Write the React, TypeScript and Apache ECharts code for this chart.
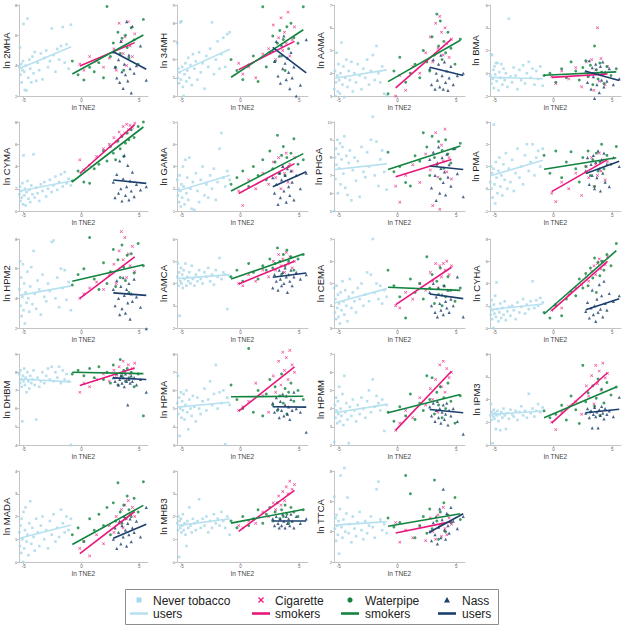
import React, { useEffect, useRef } from "react";
import * as echarts from "echarts";

// ---------- data ----------
const PANELS = ["2MHA", "34MH", "AAMA", "BMA", "CYMA", "GAMA", "PHGA", "PMA", "HPM2", "AMCA", "CEMA", "CYHA", "DHBM", "HPMA", "HPMM", "IPM3", "MADA", "MHB3", "TTCA"];

// y axis [min, max, step] per panel
const Y_AXES = [
  [2, 8, 2], [4, 9, 1], [3, 7, 1], [-2, 6, 2],
  [0, 8, 2], [1, 5, 1], [5, 10, 1], [-1, 3, 1],
  [2, 8, 2], [2, 6, 1], [3, 7, 1], [0, 8, 2],
  [4, 9, 1], [3, 8, 1], [2, 7, 1], [0, 8, 2],
  [0, 4, 1], [0, 4, 1], [2, 8, 2],
];
const X_TICKS = [-5, 0, 5];

// ln TNE2 of subjects by group
const NEVER_X = [-5.38, -5.32, -5.28, -5.22, -5.18, -5.12, -5.07, -5.02, -4.96, -4.9, -4.84, -4.76, -4.68, -4.6, -4.52, -4.44, -4.35, -4.25, -4.15, -4.05, -3.92, -3.8, -3.66, -3.52, -3.38, -3.22, -3.06, -2.9, -2.74, -2.58, -2.42, -2.26, -2.1, -1.94, -1.78, -1.62, -1.46, -1.3, -1.12, -0.92];
const CIG_X = [-0.15, 0.2, 0.7, 1.3, 1.9, 2.4, 2.8, 3.0, 3.25, 3.45, 3.6, 3.75, 3.9, 4.05, 4.2, 4.4, 4.6];
const WP_X = [-0.8, -0.3, 0.2, 0.7, 1.1, 1.5, 1.9, 2.2, 2.5, 2.75, 2.95, 3.15, 3.35, 3.5, 3.65, 3.8, 3.95, 4.1, 4.3, 4.55, 4.9, 5.35];
const NASS_X = [2.75, 2.9, 3.05, 3.2, 3.3, 3.4, 3.5, 3.6, 3.7, 3.8, 3.9, 4.0, 4.1, 4.2, 4.3, 4.4, 4.55, 4.75, 5.1, 5.6];

// fitted-line x extents per group
const FIT_X_NEVER = [-5.35, -0.9];
const FIT_X_CIG = [-0.15, 4.6];
const FIT_X_WP = [-0.8, 5.35];
const FIT_X_NASS = [2.75, 5.6];

// metabolite values (one row per panel, in PANELS order)
const NEVER_Y = [
  [3.9,5.2,3.4,4.1,2.9,3.7,4.3,6.75,3.6,2.4,4.0,2.35,7.1,3.2,4.4,3.8,2.9,4.6,3.5,4.9,3.0,4.2,3.7,4.8,3.1,4.5,5.0,3.9,4.3,6.45,4.7,3.6,5.1,4.4,5.3,6.55,4.2,5.4,3.8,6.7],
  [6.9,5.0,5.5,4.7,5.3,8.05,4.9,8.1,5.6,4.5,4.0,5.2,5.8,4.8,5.4,6.1,5.0,5.7,4.6,6.3,5.5,5.9,4.9,6.4,5.3,5.8,4.4,6.2,5.6,6.6,8.05,5.2,6.0,7.0,5.5,6.3,7.2,5.6,7.4,7.5],
  [3.3,4.1,3.0,3.6,4.9,3.9,3.2,4.4,3.7,3.1,4.0,5.35,3.5,4.3,2.95,3.8,4.6,3.4,4.1,3.7,4.5,3.2,4.0,3.6,4.4,3.9,3.3,4.2,3.8,4.6,3.5,4.1,4.8,3.7,5.2,4.0,3.6,4.3,3.1,3.0],
  [-0.2,1.65,-0.9,1.6,-0.5,0.3,-1.3,0.6,-0.1,0.9,-0.7,0.9,-1.5,0.1,-0.4,0.8,-1.0,0.4,-0.6,0.0,-1.2,4.8,-0.3,-0.8,0.5,-0.2,-1.4,0.3,-0.6,0.7,-0.9,0.0,1.0,-0.4,0.4,-1.0,0.2,-0.5,0.6,-1.1],
  [1.5,2.2,0.9,1.8,1.2,2.5,0.6,5.0,1.4,2.0,0.5,1.7,2.7,1.1,1.9,0.8,2.3,1.5,5.1,1.2,2.1,1.6,0.9,2.4,1.8,2.6,1.3,2.0,2.8,1.7,2.3,3.1,1.9,2.6,3.3,2.2,3.5,2.5,2.9,2.3],
  [2.4,1.7,2.0,1.4,2.6,1.9,1.2,2.2,1.6,3.0,2.1,1.3,3.3,1.8,2.5,1.5,3.4,2.0,1.1,2.3,1.05,2.7,1.9,1.4,2.4,3.0,1.7,2.2,1.6,2.6,2.0,2.9,1.5,2.3,3.8,4.5,2.5,2.1,2.8,2.4],
  [5.0,8.0,6.8,8.5,7.6,9.0,6.0,8.2,7.4,8.8,6.5,7.9,8.6,7.1,9.2,6.3,8.1,5.9,7.7,8.4,5.6,7.3,8.0,6.7,7.8,5.8,8.6,7.2,6.9,8.3,7.5,9.0,10.3,7.0,8.9,6.4,7.9,8.4,7.2,6.2],
  [0.3,1.0,0.0,0.7,-0.4,0.9,2.88,0.2,-0.66,1.2,0.5,-0.2,0.8,1.4,0.1,0.6,-0.3,1.1,0.4,1.6,0.0,0.9,0.3,1.3,-0.1,0.7,1.8,0.5,1.0,0.2,1.5,2.0,0.8,1.2,2.0,0.6,1.4,1.7,1.0,1.8],
  [4.6,6.5,3.5,5.4,2.8,4.1,6.3,3.2,5.0,2.3,4.4,3.7,5.8,4.0,3.1,4.8,6.1,3.6,7.2,4.3,3.3,5.2,4.6,2.9,5.6,4.1,3.8,5.0,4.5,7.8,7.9,4.0,5.4,3.4,6.0,4.7,5.9,3.9,5.1,3.2],
  [4.3,4.9,3.9,4.5,2.55,4.1,4.7,4.0,4.4,3.8,4.6,4.2,4.9,3.9,4.3,4.1,4.5,4.0,4.8,4.2,3.9,4.4,4.1,4.6,4.2,4.0,4.5,4.3,4.7,4.1,4.4,3.95,4.6,4.3,5.15,4.2,4.5,4.4,2.85,4.3],
  [4.8,3.7,4.3,3.4,4.9,3.9,4.5,3.5,4.1,3.2,4.6,3.8,5.1,4.2,3.6,4.7,4.0,3.3,4.4,5.2,3.9,4.6,4.2,3.7,4.8,4.3,5.0,4.0,4.5,5.5,4.2,5.4,7.0,4.6,5.0,4.3,4.9,4.1,4.7,4.4],
  [1.9,1.2,2.5,0.8,1.6,0.0,2.1,1.3,2.9,1.0,4.1,1.7,0.6,1.4,2.2,0.9,1.8,1.2,2.4,0.7,1.5,1.9,1.1,2.0,1.6,0.8,2.3,1.4,1.9,2.6,1.3,2.1,1.7,2.4,4.2,1.8,2.5,2.0,2.7,2.3],
  [7.9,7.4,8.1,7.6,7.2,5.3,7.8,7.5,8.2,7.3,7.7,6.9,8.0,7.5,7.1,7.8,7.4,7.6,8.1,7.3,5.4,7.7,7.2,7.5,8.0,7.4,7.8,8.2,7.6,8.3,7.5,8.0,7.7,8.3,7.4,8.1,7.6,7.9,7.5,4.0],
  [5.3,6.8,4.7,5.6,3.5,5.0,5.9,4.5,5.4,4.9,5.8,4.4,5.2,6.0,4.8,3.86,5.5,5.0,4.6,5.7,5.1,4.3,5.6,5.0,4.7,5.4,6.1,4.9,5.5,6.5,5.2,5.8,7.4,5.0,5.9,5.3,6.0,3.04,5.6,5.2],
  [2.16,4.2,3.5,4.6,3.9,3.2,4.4,3.7,5.2,3.3,4.0,3.6,4.8,3.1,5.8,3.8,4.3,3.4,2.1,4.1,3.6,4.5,3.9,3.3,4.2,3.7,4.6,4.0,3.5,4.4,5.0,3.8,5.6,4.1,4.7,4.3,3.9,4.5,2.77,4.2],
  [2.6,3.6,2.2,2.9,0.15,2.5,3.1,2.3,2.8,1.4,2.6,3.0,2.1,2.7,1.3,2.9,2.4,3.2,2.6,1.4,2.8,2.3,3.1,2.7,2.5,3.0,2.2,2.9,3.4,2.6,3.0,2.4,4.5,2.8,3.2,2.5,3.0,3.6,2.9,3.3],
  [1.3,0.7,1.6,0.4,1.9,1.0,0.0,2.2,0.6,1.4,2.4,0.9,1.2,0.3,1.7,2.67,0.8,1.5,1.1,0.5,1.9,1.3,0.7,1.6,2.0,1.0,1.4,0.6,1.8,1.2,2.1,0.9,1.5,1.1,2.3,1.7,1.3,2.0,1.4,1.9],
  [1.7,1.4,2.0,0.22,1.8,1.5,1.9,1.3,1.6,2.1,1.4,1.7,1.2,0.7,1.8,1.5,2.4,1.6,1.3,1.9,1.7,1.4,1.8,2.76,1.5,1.9,1.6,2.0,1.3,1.8,1.5,2.1,1.7,1.9,1.6,2.2,1.8,1.5,2.0,1.2],
  [6.3,4.2,4.9,3.4,5.1,4.4,3.8,4.7,2.55,5.5,7.7,4.3,3.6,4.8,8.2,4.0,5.2,6.25,3.9,4.5,3.3,5.0,4.2,3.7,4.6,5.3,4.1,3.5,4.7,3.9,4.4,5.0,4.3,3.6,6.8,7.3,4.8,4.1,4.5,3.9],
];
const CIG_Y = [
  [4.1,3.7,4.6,4.3,3.9,4.5,5.1,3.7,6.8,5.6,4.8,5.9,4.0,6.9,5.3,4.6,6.1],
  [5.8,5.2,5.6,5.0,6.3,6.6,7.9,6.0,7.2,8.3,6.5,7.5,6.9,8.6,6.2,7.1,7.8],
  [3.0,3.9,3.25,4.3,4.0,4.9,5.6,4.5,6.2,5.1,6.5,5.8,4.8,6.0,5.3,4.7,5.5],
  [-0.3,-0.9,0.2,-0.5,0.5,-1.2,1.0,-0.2,1.2,-1.5,0.3,4.0,-0.7,1.3,-0.1,-1.0,0.6],
  [4.6,3.7,4.1,4.9,5.6,6.0,6.6,6.2,7.1,6.8,7.6,7.0,7.8,7.3,7.7,7.5,7.9],
  [1.9,1.25,2.4,2.0,2.7,2.2,3.2,2.5,3.4,2.0,3.0,2.7,3.6,2.3,3.1,2.8,3.4],
  [6.4,5.5,7.0,7.6,6.6,8.2,7.3,5.3,9.4,6.9,5.1,8.7,7.8,9.6,7.2,8.0,6.8],
  [-0.2,-0.58,0.3,0.0,0.7,-0.3,1.0,0.5,1.4,0.1,1.1,0.6,1.6,0.8,1.3,0.4,1.2],
  [4.0,4.3,4.7,5.1,4.6,5.6,6.3,5.0,7.2,8.5,6.6,8.1,5.4,7.0,6.2,7.5,5.8],
  [4.0,3.9,4.4,4.1,4.6,4.3,5.0,4.6,5.3,4.8,5.1,4.5,5.4,4.9,5.2,4.7,5.0],
  [4.0,3.9,4.6,4.3,5.0,4.7,5.5,5.1,5.9,4.8,5.8,5.3,5.9,5.6,6.0,5.4,5.8],
  [1.6,2.1,1.8,3.0,3.6,3.9,4.6,4.2,5.1,5.6,4.8,5.8,6.2,5.3,6.0,5.7,6.4],
  [6.9,7.4,7.2,7.6,7.9,7.5,8.1,7.7,8.3,7.8,8.6,8.0,7.6,8.4,7.9,8.2,8.5],
  [4.9,5.1,5.4,6.4,5.7,4.8,6.8,5.9,7.6,6.3,8.1,7.1,7.8,6.6,8.2,7.4,7.0],
  [2.8,3.2,3.9,3.5,4.6,4.2,5.1,4.5,5.6,3.8,6.4,5.2,6.6,4.9,6.2,5.7,6.0],
  [2.0,1.35,2.9,3.4,3.8,2.7,5.2,4.3,6.1,3.6,7.0,5.4,6.5,4.8,7.2,5.9,6.3],
  [0.6,0.9,0.27,1.2,0.8,1.6,1.3,2.0,1.7,2.3,1.5,2.5,1.9,2.7,2.1,2.4,2.0],
  [1.6,1.5,1.8,1.7,2.2,2.0,2.6,2.3,2.9,2.5,3.1,2.7,3.3,3.0,3.55,3.2,3.4],
  [4.6,3.3,4.1,3.6,4.3,3.4,4.9,4.0,3.5,5.1,4.4,3.7,5.6,4.2,3.8,4.9,4.5],
];
const WP_Y = [
  [4.3,3.4,3.05,3.9,3.6,4.2,3.2,7.9,4.6,5.5,3.9,6.2,4.8,5.8,3.7,6.0,5.2,4.5,6.5,5.7,4.1,7.05],
  [6.0,5.4,4.9,5.7,6.2,4.8,8.9,5.6,6.4,7.3,5.9,6.9,7.6,6.2,7.1,5.4,7.8,6.6,8.0,7.2,6.9,8.9],
  [3.1,4.1,4.7,3.6,4.0,4.4,3.8,5.0,4.5,4.1,5.6,4.8,6.6,5.2,6.3,4.6,5.4,4.9,5.8,5.1,4.4,5.5],
  [-0.2,0.0,-0.8,0.4,-0.4,1.0,0.2,-0.6,0.5,1.1,-0.3,0.7,-1.0,2.4,0.3,-0.5,0.9,0.1,-0.9,0.6,-0.2,0.4],
  [2.7,3.6,2.6,2.5,3.8,4.2,5.4,4.5,5.8,5.2,4.6,6.3,5.6,6.7,4.9,6.1,7.0,6.4,7.3,6.6,7.6,8.0],
  [2.2,2.5,2.8,2.1,3.0,2.6,3.3,2.4,3.7,2.9,3.2,4.4,2.7,3.5,3.9,2.6,3.4,3.0,3.6,4.25,3.1,3.3],
  [8.3,7.2,7.5,6.6,6.4,8.1,7.8,9.4,8.6,7.0,9.2,8.0,7.6,8.9,6.8,8.4,7.4,9.0,8.2,7.7,8.5,8.8],
  [1.5,0.7,1.7,0.5,1.2,1.66,0.9,0.3,1.4,1.0,1.7,0.6,1.3,0.1,1.6,0.8,1.2,2.0,0.9,1.5,1.1,1.9],
  [4.9,5.6,6.0,8.1,5.3,4.6,6.4,5.0,5.8,7.3,4.8,6.6,5.4,7.6,6.1,5.2,6.9,4.4,7.0,5.7,7.7,6.2],
  [4.3,4.6,4.1,4.9,4.5,4.2,4.8,4.6,5.1,4.7,4.9,5.6,5.0,4.4,5.3,4.8,5.5,5.0,5.2,4.6,5.1,5.3],
  [5.6,4.9,4.4,3.45,5.2,4.6,5.0,4.3,6.2,4.8,5.4,4.1,5.1,4.5,5.7,4.0,4.9,4.4,5.3,4.7,4.2,4.8],
  [1.4,0.9,2.0,1.1,2.6,3.3,2.9,4.4,3.6,4.9,3.8,5.4,4.5,6.3,3.2,5.9,4.7,6.0,5.2,6.6,5.6,7.6],
  [7.9,8.1,7.8,8.2,7.7,8.3,7.6,8.0,7.4,8.4,7.9,7.3,8.7,7.8,8.1,7.5,8.2,7.7,8.0,7.2,7.9,5.6],
  [6.3,5.5,5.0,8.3,4.8,6.0,4.6,5.8,6.6,5.2,6.2,4.9,5.7,6.9,5.3,6.1,4.7,5.9,6.4,5.4,6.0,5.5],
  [3.8,3.3,4.1,3.6,4.8,3.4,4.3,3.9,5.8,4.5,5.7,3.7,4.9,4.2,5.2,3.5,4.6,4.0,5.4,4.4,3.2,4.7],
  [3.0,2.4,2.7,3.5,2.2,4.3,3.1,1.9,7.0,3.8,4.6,2.9,5.2,3.4,4.1,5.8,2.6,4.9,3.7,5.5,4.4,5.1],
  [1.2,1.5,0.9,1.9,1.4,2.1,1.6,2.4,1.2,2.6,1.8,3.48,2.2,1.7,2.5,1.9,2.9,2.3,2.0,2.8,2.2,3.53],
  [1.8,1.5,2.0,1.6,1.9,2.3,1.7,2.1,2.4,1.8,2.2,2.6,1.9,2.3,2.0,2.5,2.1,1.7,2.4,2.2,2.0,2.3],
  [4.9,4.3,4.6,7.7,6.5,3.6,4.4,5.0,3.9,5.5,4.2,7.4,4.7,3.5,5.3,4.5,5.9,4.0,5.1,4.6,6.25,4.8],
];
const NASS_Y = [
  [4.9,3.9,3.2,4.4,2.9,5.6,3.6,2.5,4.1,3.4,6.9,3.0,4.7,3.8,2.2,6.6,3.5,4.0,5.3,3.05],
  [6.5,5.9,7.0,5.1,6.2,4.7,6.8,5.5,7.3,5.8,4.9,6.1,5.3,4.4,6.4,5.0,5.6,4.0,4.6,7.1],
  [4.2,3.5,4.6,3.3,4.0,3.7,4.4,3.4,4.8,3.9,3.3,4.5,3.6,4.1,3.25,3.8,4.3,3.5,3.9,4.0],
  [0.2,-0.8,1.1,-1.4,0.5,-0.3,-2.2,0.8,-1.0,0.0,-1.7,0.6,-0.6,1.0,-1.2,0.1,-0.7,0.4,-1.0,-0.5],
  [2.6,1.2,3.3,1.6,4.5,2.0,0.9,2.9,5.0,1.4,2.2,4.1,1.0,2.7,1.8,3.5,1.3,2.4,1.9,2.2],
  [2.5,1.8,2.2,1.3,2.7,1.6,2.4,3.0,1.9,2.6,1.4,2.9,2.1,1.7,2.8,2.3,1.5,2.6,2.0,2.7],
  [7.9,6.3,8.3,7.0,5.6,7.7,8.6,6.0,7.4,8.0,6.6,7.2,5.9,8.2,6.9,7.6,6.4,8.5,7.1,5.8],
  [0.8,1.4,0.2,1.1,0.6,1.5,0.0,1.2,0.5,1.7,0.9,-0.1,1.3,0.7,1.6,0.3,1.1,0.1,1.4,1.0],
  [4.6,3.5,5.2,4.0,2.9,4.8,3.3,5.4,4.2,3.0,4.6,3.7,5.0,2.6,4.3,3.8,5.3,4.1,3.4,1.95],
  [3.8,4.4,4.1,3.7,4.6,4.2,3.9,4.5,4.0,4.7,4.3,3.6,4.4,4.1,4.6,3.9,4.3,4.5,4.2,4.4],
  [4.6,4.0,5.0,3.7,4.4,3.5,4.8,4.1,3.8,4.5,3.6,4.9,4.2,3.9,4.7,3.7,4.3,4.0,5.3,3.5],
  [1.5,2.3,0.9,1.8,3.4,1.2,2.0,0.6,2.6,1.4,3.9,1.7,2.9,1.0,4.2,2.2,1.6,3.1,2.4,2.9],
  [7.7,7.5,7.9,7.3,7.6,7.8,7.4,7.7,7.2,7.9,7.5,6.2,7.6,7.4,7.8,7.5,7.7,7.3,7.6,6.9],
  [5.3,4.8,5.6,5.0,4.5,5.4,4.9,5.8,4.6,5.2,5.7,4.7,5.1,4.4,5.5,4.9,5.9,5.0,4.8,3.7],
  [4.1,3.6,4.3,3.3,3.9,4.4,3.5,4.0,3.2,3.8,4.2,3.4,3.7,4.3,3.1,3.9,3.6,4.0,3.3,2.6],
  [2.8,3.2,2.4,3.0,1.5,2.7,3.3,2.5,2.9,1.5,3.1,2.6,3.4,2.8,2.3,3.2,2.7,3.0,2.5,4.2],
  [1.0,1.5,0.6,1.3,1.8,0.8,1.6,1.1,2.0,1.4,0.7,1.7,1.2,1.9,0.9,1.5,1.3,1.8,1.1,2.4],
  [1.9,1.6,2.0,1.7,1.5,1.9,1.6,2.1,1.8,1.5,2.0,1.7,1.9,1.6,2.1,1.8,1.5,2.0,1.7,1.9],
  [4.0,3.4,4.6,3.8,5.0,3.2,4.3,5.5,3.6,4.8,6.8,4.1,3.5,5.2,4.4,3.9,5.6,4.7,4.2,5.0],
];

// fitted line end values [start, end] per panel
const FIT_NEVER = [[3.82,5.25],[5.27,6.57],[3.78,4.15],[-0.36,-0.48],[1.8,2.7],[1.9,2.61],[7.33,7.65],[0.58,1.28],[4.2,4.84],[4.22,4.4],[4.12,4.77],[1.65,2.16],[7.63,7.47],[5.08,5.35],[3.77,4.23],[2.69,2.99],[1.04,1.63],[1.6,1.9],[4.43,4.66]];
const FIT_CIG = [[3.98,5.52],[5.45,7.0],[3.36,5.5],[-0.36,-0.06],[3.37,7.76],[1.79,3.13],[6.93,7.89],[-0.13,1.31],[4.0,6.8],[3.98,5.0],[4.05,5.73],[1.56,5.99],[7.27,8.23],[4.86,7.29],[2.82,6.05],[1.95,6.35],[0.37,2.22],[1.35,3.15],[3.91,4.66]];
const FIT_WP = [[3.45,6.02],[5.03,7.64],[3.63,5.45],[-0.18,0.12],[2.63,7.55],[1.9,3.58],[7.33,8.65],[0.88,1.39],[5.15,6.27],[4.2,5.33],[4.83,4.69],[1.26,6.95],[8.0,7.92],[5.65,5.68],[3.77,4.77],[2.4,5.09],[0.77,2.49],[1.71,2.31],[4.36,5.18]];
const FIT_NASS = [[4.92,3.76],[6.67,5.27],[4.26,3.9],[0.18,-0.63],[2.78,2.48],[2.09,2.76],[7.53,7.33],[0.69,1.24],[4.37,4.2],[4.28,4.47],[4.53,4.32],[1.65,2.63],[7.69,7.6],[5.1,5.08],[3.95,3.77],[2.84,3.14],[1.04,1.66],[1.8,1.8],[3.98,5.18]];

const LEGEND_GROUPS = [
  ["Never tobacco", "users"],
  ["Cigarette", "smokers"],
  ["Waterpipe", "smokers"],
  ["Nass", "users"],
];

// ---------- style ----------
const C_NEVER = "#a6d7ea";
const C_NEVER_LINE = "#b8e1f0";
const C_CIG = "#e8177c";
const C_WP = "#12843f";
const C_NASS = "#1b3e6c";
const CROSS = "path://M0,1.4L1.4,0L5,3.6L8.6,0L10,1.4L6.4,5L10,8.6L8.6,10L5,6.4L1.4,10L0,8.6L3.6,5Z";
const FONT = "Liberation Sans, Arial, Helvetica, sans-serif";

const COL_LEFT = [17, 177, 334, 490];
const COL_W = 131;
const ROW_TOP = [5, 122, 239, 354, 471];
const ROW_BOTTOM = [96, 211, 328, 445, 562];

function buildOption() {
  const grid: any[] = [];
  const xAxis: any[] = [];
  const yAxis: any[] = [];
  const series: any[] = [];
  const axisColor = "#c4c4c4";

  PANELS.forEach((name, i) => {
    const col = i % 4;
    const row = Math.floor(i / 4);
    grid.push({
      left: COL_LEFT[col],
      top: ROW_TOP[row],
      width: COL_W,
      height: ROW_BOTTOM[row] - ROW_TOP[row],
      containLabel: false,
    });
    xAxis.push({
      type: "value",
      gridIndex: i,
      min: -5.4,
      max: 5.75,
      axisLine: { show: true, onZero: false, lineStyle: { color: axisColor, width: 1 } },
      axisTick: { show: true, length: 2, customValues: X_TICKS, lineStyle: { color: axisColor } },
      axisLabel: { customValues: X_TICKS, fontSize: 4.5, color: "#666", margin: 2, fontFamily: FONT },
      splitLine: { show: false },
      name: "ln TNE2",
      nameLocation: "middle",
      nameGap: 7,
      nameTextStyle: { fontSize: 6.5, color: "#444", fontFamily: FONT },
    });
    const [ymin, ymax, ystep] = Y_AXES[i];
    yAxis.push({
      type: "value",
      gridIndex: i,
      min: ymin,
      max: ymax,
      interval: ystep,
      axisLine: { show: true, onZero: false, lineStyle: { color: axisColor, width: 1 } },
      axisTick: { show: true, length: 2, lineStyle: { color: axisColor } },
      axisLabel: { fontSize: 4, color: "#666", margin: 2, fontFamily: FONT },
      splitLine: { show: false },
      name: "ln " + name,
      nameLocation: "middle",
      nameGap: 7,
      nameTextStyle: { fontSize: 9.5, color: "#222", fontFamily: FONT },
    });
    const sc = (xs: number[], ys: number[], symbol: string, size: number, color: string) => ({
      type: "scatter",
      xAxisIndex: i,
      yAxisIndex: i,
      data: xs.map((x, j) => [x, ys[j]]),
      symbol,
      symbolSize: size,
      itemStyle: { color },
      clip: false,
      silent: true,
    });
    series.push(sc(NEVER_X, NEVER_Y[i], "rect", 2.6, C_NEVER));
    series.push(sc(CIG_X, CIG_Y[i], CROSS, 3.1, C_CIG));
    series.push(sc(WP_X, WP_Y[i], "circle", 2.9, C_WP));
    series.push(sc(NASS_X, NASS_Y[i], "triangle", 3.2, C_NASS));
    const ln = (xr: number[], yr: number[], color: string) => ({
      type: "line",
      xAxisIndex: i,
      yAxisIndex: i,
      data: [[xr[0], yr[0]], [xr[1], yr[1]]],
      showSymbol: false,
      symbol: "none",
      lineStyle: { color, width: 1.6 },
      silent: true,
      z: 3,
    });
    series.push(ln(FIT_X_NEVER, FIT_NEVER[i], C_NEVER_LINE));
    series.push(ln(FIT_X_CIG, FIT_CIG[i], C_CIG));
    series.push(ln(FIT_X_WP, FIT_WP[i], C_WP));
    series.push(ln(FIT_X_NASS, FIT_NASS[i], C_NASS));
  });

  // legend drawn with graphic elements
  const itemX = [130, 252, 341, 438];
  const textX = [153, 275, 365, 462];
  const colors = [C_NEVER, C_CIG, C_WP, C_NASS];
  const lineColors = [C_NEVER_LINE, C_CIG, C_WP, C_NASS];
  const g: any[] = [
    {
      type: "rect",
      shape: { x: 125.5, y: 589.5, width: 373, height: 35 },
      style: { fill: "#fff", stroke: "#8c8c8c", lineWidth: 1 },
    },
  ];
  LEGEND_GROUPS.forEach((lab, k) => {
    const cx = itemX[k] + 9;
    const cy = 600;
    if (k === 0) {
      g.push({ type: "rect", shape: { x: cx - 2.5, y: cy - 2.5, width: 5, height: 5 }, style: { fill: colors[k] } });
    } else if (k === 1) {
      g.push({ type: "line", shape: { x1: cx - 2.5, y1: cy - 2.5, x2: cx + 2.5, y2: cy + 2.5 }, style: { stroke: colors[k], lineWidth: 1.3 } });
      g.push({ type: "line", shape: { x1: cx + 2.5, y1: cy - 2.5, x2: cx - 2.5, y2: cy + 2.5 }, style: { stroke: colors[k], lineWidth: 1.3 } });
    } else if (k === 2) {
      g.push({ type: "circle", shape: { cx, cy, r: 2.6 }, style: { fill: colors[k] } });
    } else {
      g.push({ type: "polygon", shape: { points: [[cx - 3, cy + 2.5], [cx + 3, cy + 2.5], [cx, cy - 3]] }, style: { fill: colors[k] } });
    }
    g.push({ type: "line", shape: { x1: itemX[k], y1: 613.5, x2: itemX[k] + 18, y2: 613.5 }, style: { stroke: lineColors[k], lineWidth: 2.6 } });
    g.push({ type: "text", x: textX[k], y: 601, style: { text: lab[0], fill: "#222", font: "12px " + FONT, textVerticalAlign: "middle" } });
    g.push({ type: "text", x: textX[k], y: 614, style: { text: lab[1], fill: "#222", font: "12px " + FONT, textVerticalAlign: "middle" } });
  });

  return {
    animation: false,
    backgroundColor: "#ffffff",
    textStyle: { fontFamily: FONT },
    grid,
    xAxis,
    yAxis,
    series,
    graphic: g,
  };
}

export default function App() {
  const ref = useRef<HTMLDivElement>(null);
  useEffect(() => {
    if (!ref.current) return;
    const chart = echarts.init(ref.current, undefined, { renderer: "svg" });
    chart.setOption(buildOption() as any);
    return () => chart.dispose();
  }, []);
  return <div ref={ref} style={{ position: "absolute", left: 0, top: 0, width: 625, height: 627 }} />;
}
